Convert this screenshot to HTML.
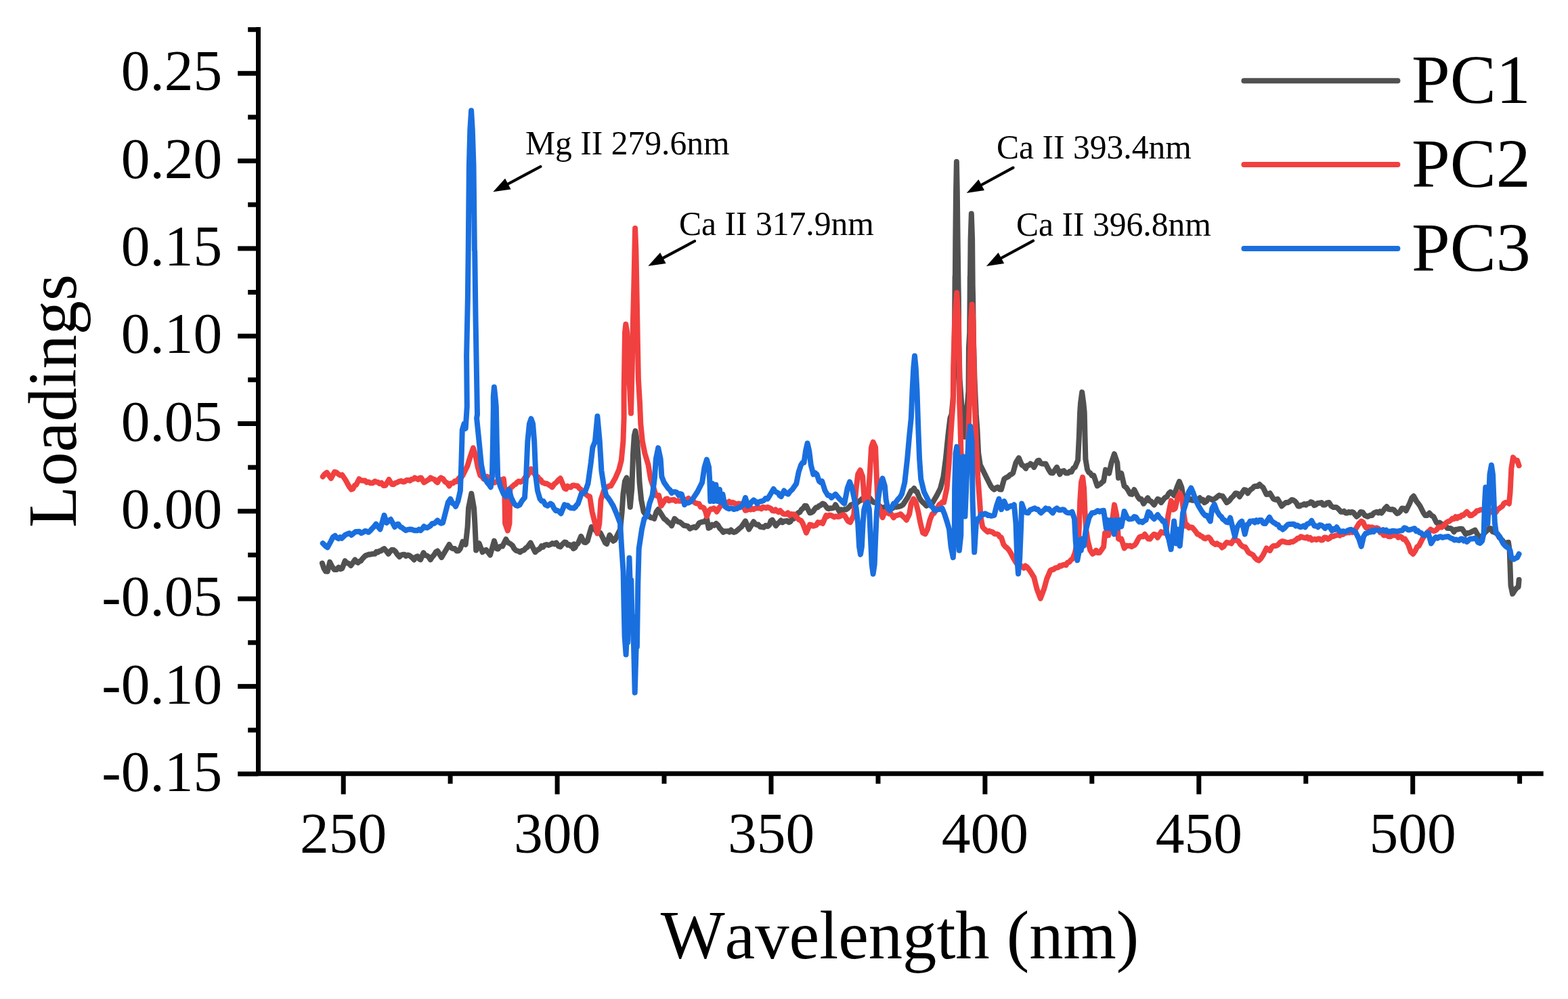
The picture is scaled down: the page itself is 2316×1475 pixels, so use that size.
<!DOCTYPE html>
<html lang="en"><head><meta charset="utf-8"><title>PCA loadings</title>
<style>
html,body{margin:0;padding:0;background:#fff;}
body{width:2316px;height:1475px;overflow:hidden;}
svg{display:block;}
text{font-family:"Liberation Serif","DejaVu Serif",serif;fill:#000;font-kerning:none;}
.tick{font-size:85.5px;}
.title{font-size:100.6px;}
.leg{font-size:102px;}
.ann{font-size:49.6px;}
</style></head><body>
<svg width="2316" height="1475" viewBox="0 0 2316 1475" role="img" aria-label="PCA loadings versus wavelength">
<rect width="2316" height="1475" fill="#fff"/>
<g fill="none" stroke-linejoin="round" stroke-linecap="round" stroke-width="8">
<path d="M475.9 831.6 L478.5 839.4 L481.1 843.6 L483.7 843.7 L487.2 829.9 L490.6 836.8 L494.1 841.1 L497.1 841.0 L500.1 837.7 L502.7 840.2 L505.3 839.4 L509.6 828.2 L511.8 830.9 L514.0 831.6 L516.1 832.7 L518.3 835.1 L524.3 826.4 L526.5 829.6 L528.7 830.8 L530.8 828.8 L533.0 828.2 L535.3 825.0 L537.6 822.7 L539.9 820.4 L542.2 819.6 L544.5 818.5 L546.8 818.7 L549.1 818.0 L551.4 817.7 L553.7 817.8 L556.0 814.6 L558.3 815.5 L560.6 813.5 L562.9 813.4 L565.2 811.2 L567.5 810.0 L570.6 813.6 L573.6 817.8 L576.2 814.2 L578.8 811.8 L581.4 811.9 L584.0 814.3 L587.0 818.8 L590.0 822.1 L592.6 819.6 L595.2 818.7 L597.5 818.8 L599.8 821.0 L602.1 819.5 L604.7 820.1 L607.3 822.1 L609.5 824.0 L611.6 826.4 L614.2 822.2 L616.8 821.3 L619.0 825.1 L621.1 826.4 L625.5 816.1 L628.0 819.9 L630.6 820.4 L633.2 822.3 L635.8 826.4 L638.4 822.4 L641.0 819.5 L643.6 815.2 L646.2 813.5 L652.2 823.0 L657.4 814.3 L663.5 804.0 L666.1 808.6 L668.7 810.0 L671.7 810.1 L674.7 813.5 L677.3 813.3 L679.9 810.0 L683.4 799.7 L685.5 801.2 L687.7 804.0 L690.6 778.0 L692.0 750.4 L696.3 728.7 L700.1 750.4 L701.5 774.6 L703.2 812.6 L707.6 802.2 L712.7 815.2 L715.3 813.2 L717.9 811.8 L721.0 815.4 L724.0 819.5 L730.0 798.7 L733.5 810.0 L735.7 810.5 L737.8 807.4 L740.0 806.5 L742.1 806.6 L747.3 796.2 L749.9 800.8 L752.5 802.2 L754.8 803.6 L757.1 805.7 L759.4 810.0 L762.3 812.8 L765.2 813.6 L768.1 815.2 L770.9 813.1 L773.8 812.4 L776.7 809.2 L779.0 807.8 L781.3 804.8 L783.6 801.4 L790.5 815.2 L792.8 812.7 L795.1 811.4 L797.5 810.0 L799.8 806.2 L802.1 807.7 L804.4 804.8 L807.2 804.0 L810.1 804.9 L813.0 804.0 L815.9 802.1 L818.8 803.4 L821.7 801.4 L824.7 806.2 L827.7 807.4 L830.7 803.5 L833.8 800.5 L836.1 801.0 L838.4 804.6 L840.7 804.0 L843.0 806.2 L845.3 805.0 L847.7 803.3 L850.0 805.7 L846.9 810.0 L849.2 808.8 L851.5 804.3 L853.8 802.2 L858.2 791.9 L862.5 800.5 L865.1 801.1 L867.7 798.8 L871.1 786.7 L873.7 778.0 L876.7 780.2 L879.8 783.2 L882.1 786.1 L884.4 786.7 L886.7 786.7 L891.9 797.1 L894.0 801.5 L896.2 803.1 L900.5 790.1 L905.7 798.8 L908.3 797.1 L910.9 791.9 L916.1 781.5 L918.7 755.6 L920.4 729.6 L923.0 710.6 L925.6 705.4 L928.2 721.0 L930.8 748.7 L933.3 721.0 L935.1 669.1 L936.8 643.2 L938.5 636.3 L941.1 651.9 L942.9 677.8 L944.6 712.4 L947.2 738.3 L950.6 755.6 L953.2 759.0 L955.8 762.5 L958.4 761.6 L961.0 764.2 L963.6 764.4 L966.2 765.9 L969.6 755.6 L972.2 752.1 L976.6 759.0 L980.9 765.9 L983.9 767.9 L986.9 771.1 L989.5 772.9 L992.1 776.3 L996.4 765.9 L999.0 768.3 L1001.6 770.3 L1004.2 770.9 L1006.8 772.9 L1009.8 775.7 L1012.9 776.3 L1015.9 776.9 L1018.9 780.6 L1021.9 779.1 L1025.0 778.0 L1027.6 779.1 L1030.1 776.3 L1032.7 772.2 L1035.3 771.1 L1037.9 770.4 L1040.5 770.3 L1044.0 765.9 L1046.6 779.8 L1049.2 778.4 L1051.8 774.6 L1054.8 775.8 L1057.8 772.9 L1060.4 775.3 L1063.0 779.8 L1065.6 782.4 L1068.2 785.8 L1070.5 784.3 L1072.8 784.4 L1075.1 784.1 L1077.4 785.6 L1079.7 782.6 L1082.0 785.0 L1084.3 785.9 L1086.6 785.0 L1088.9 783.2 L1091.9 780.5 L1095.0 778.0 L1101.0 769.4 L1106.2 781.5 L1113.1 770.3 L1115.4 773.4 L1117.7 774.7 L1120.0 774.6 L1122.6 777.7 L1125.2 778.0 L1128.1 778.7 L1131.0 775.8 L1133.9 777.2 L1136.2 775.4 L1138.5 769.2 L1140.8 767.7 L1146.0 776.3 L1148.6 773.1 L1151.1 771.1 L1153.5 768.6 L1155.8 771.3 L1158.1 769.4 L1160.4 769.5 L1162.7 769.0 L1165.0 771.1 L1167.3 770.3 L1169.6 766.7 L1171.9 765.9 L1174.2 764.6 L1176.5 759.9 L1178.8 757.3 L1181.4 756.2 L1184.0 752.1 L1186.3 750.5 L1188.6 746.8 L1190.9 746.9 L1196.1 757.3 L1198.4 756.8 L1200.7 755.4 L1203.0 752.1 L1205.3 749.3 L1207.6 749.2 L1209.9 746.9 L1212.5 745.8 L1215.1 743.5 L1217.4 744.4 L1219.7 747.2 L1222.0 750.4 L1224.3 751.2 L1226.6 750.2 L1228.9 750.4 L1231.5 749.9 L1234.1 745.2 L1240.0 755.6 L1242.4 752.4 L1244.9 753.6 L1247.3 752.1 L1249.6 752.4 L1251.9 750.9 L1254.2 748.7 L1256.8 745.6 L1259.4 744.7 L1262.0 742.9 L1264.6 743.5 L1267.5 740.9 L1270.3 739.3 L1273.2 736.6 L1275.5 735.8 L1277.8 733.7 L1280.1 729.6 L1282.4 733.7 L1284.7 735.5 L1287.0 738.3 L1289.5 741.3 L1291.9 742.0 L1294.3 741.4 L1296.7 745.2 L1299.1 746.9 L1301.6 749.3 L1304.0 749.7 L1306.4 748.9 L1308.8 750.8 L1311.2 752.1 L1313.7 749.7 L1316.1 751.0 L1318.5 750.4 L1320.9 747.5 L1323.3 748.7 L1325.9 748.2 L1328.5 747.7 L1331.1 746.9 L1333.7 745.2 L1340.6 734.8 L1345.8 724.5 L1348.0 723.9 L1350.1 721.0 L1352.3 725.1 L1354.5 726.2 L1357.9 734.8 L1360.5 739.0 L1363.1 741.7 L1365.7 744.0 L1368.3 746.9 L1370.9 745.3 L1373.5 745.2 L1376.1 744.0 L1378.7 740.0 L1383.8 731.4 L1389.0 721.0 L1393.4 703.7 L1396.8 677.8 L1400.3 643.2 L1403.4 617.3 L1405.5 612.0 L1408.0 586.1 L1409.4 542.9 L1410.1 473.7 L1410.6 408.0 L1410.8 418.6 L1411.3 352.9 L1412.0 283.7 L1412.9 238.7 L1413.8 283.7 L1414.6 352.9 L1415.5 422.0 L1415.8 439.1 L1416.3 508.3 L1417.6 560.1 L1420.1 594.7 L1422.7 617.3 L1425.0 645.0 L1427.1 617.3 L1429.1 594.7 L1430.5 577.4 L1430.9 513.5 L1432.2 491.0 L1432.8 408.0 L1432.9 418.6 L1433.6 352.9 L1434.8 315.6 L1436.1 352.9 L1436.7 422.0 L1437.1 439.1 L1438.0 508.3 L1439.5 560.1 L1441.8 612.0 L1443.5 634.6 L1445.2 669.1 L1447.8 686.4 L1453.0 696.8 L1458.2 707.2 L1463.4 717.5 L1466.0 720.9 L1468.5 722.7 L1471.1 720.4 L1473.7 719.3 L1476.3 722.5 L1478.9 722.7 L1483.2 707.2 L1486.3 705.2 L1489.3 703.7 L1491.6 701.3 L1493.9 700.1 L1496.2 698.5 L1500.5 683.0 L1504.8 676.1 L1509.2 686.4 L1512.2 688.1 L1515.2 691.6 L1517.5 687.3 L1519.8 687.1 L1522.1 684.7 L1524.7 686.2 L1527.3 689.9 L1532.5 680.4 L1534.8 679.7 L1537.1 683.9 L1539.4 684.7 L1542.0 684.7 L1544.6 684.7 L1548.9 693.3 L1552.0 698.0 L1555.0 698.5 L1561.0 689.9 L1565.4 700.3 L1568.4 695.9 L1571.4 695.1 L1574.4 698.5 L1577.5 698.5 L1580.0 696.1 L1582.6 696.8 L1585.2 691.5 L1587.8 689.9 L1592.1 679.5 L1593.9 643.2 L1595.1 608.6 L1596.1 594.7 L1598.2 579.1 L1600.3 594.7 L1601.7 608.6 L1602.5 643.2 L1603.4 677.8 L1606.0 693.3 L1608.1 697.5 L1610.3 698.5 L1612.9 702.3 L1615.5 702.0 L1620.7 717.5 L1623.3 715.7 L1625.9 714.1 L1627.9 711.9 L1630.0 710.6 L1633.0 693.6 L1635.6 695.6 L1638.2 698.8 L1641.6 683.2 L1645.9 670.2 L1650.3 683.2 L1652.0 705.7 L1656.3 698.8 L1660.6 717.8 L1663.6 719.9 L1666.7 724.7 L1669.3 729.3 L1671.9 729.9 L1675.3 723.0 L1680.5 733.3 L1683.1 736.9 L1685.7 736.8 L1689.1 743.7 L1695.2 735.1 L1697.8 739.4 L1700.4 740.3 L1702.5 743.1 L1704.7 745.4 L1709.9 736.8 L1712.5 737.9 L1715.1 742.0 L1717.7 738.5 L1720.3 735.1 L1723.7 733.3 L1726.3 728.6 L1728.9 726.4 L1731.5 728.4 L1734.1 731.6 L1738.4 719.5 L1741.9 710.9 L1745.3 719.5 L1747.9 735.1 L1750.5 734.8 L1753.1 736.8 L1755.4 738.1 L1757.7 736.6 L1760.0 738.5 L1762.3 738.9 L1764.6 735.4 L1766.9 736.8 L1769.5 738.0 L1772.1 735.1 L1774.4 739.4 L1776.7 737.7 L1779.0 742.0 L1782.1 740.1 L1785.1 735.1 L1788.1 736.4 L1791.1 738.5 L1793.4 736.7 L1795.7 735.5 L1798.0 733.3 L1800.6 731.3 L1803.2 732.1 L1805.8 732.5 L1811.9 742.0 L1814.2 740.6 L1816.5 738.3 L1818.8 735.1 L1821.8 732.4 L1824.8 728.2 L1827.9 728.8 L1830.9 733.3 L1837.8 723.0 L1840.4 723.7 L1843.0 728.2 L1845.3 725.0 L1847.6 722.6 L1849.9 721.2 L1852.5 718.1 L1855.1 717.8 L1857.7 718.0 L1860.3 715.2 L1862.9 717.8 L1865.5 719.5 L1870.6 729.9 L1873.2 729.7 L1875.8 728.2 L1881.0 736.8 L1884.0 737.8 L1887.1 736.8 L1893.1 747.2 L1896.1 744.6 L1899.2 742.0 L1902.2 742.0 L1905.2 740.3 L1907.8 738.0 L1910.4 738.5 L1912.7 740.0 L1915.0 742.8 L1917.3 747.2 L1919.6 747.5 L1921.9 745.9 L1924.2 745.4 L1926.5 744.1 L1928.8 745.7 L1931.1 743.7 L1933.7 743.4 L1936.3 741.1 L1938.6 742.0 L1940.9 746.1 L1943.2 745.4 L1946.1 742.9 L1949.0 742.8 L1951.9 742.0 L1954.5 745.5 L1957.1 745.4 L1960.1 742.5 L1963.1 742.0 L1966.2 747.1 L1969.2 748.9 L1971.5 749.0 L1973.8 748.9 L1976.1 750.6 L1978.4 753.2 L1980.7 755.7 L1983.0 755.8 L1985.3 754.7 L1987.6 757.5 L1989.9 757.5 L1992.2 755.9 L1994.5 757.0 L1996.8 755.8 L1999.1 756.7 L2001.4 759.9 L2003.8 762.7 L2006.8 760.2 L2009.8 755.8 L2012.8 756.4 L2015.9 761.0 L2017.9 761.8 L2020.0 762.7 L2022.2 761.8 L2024.4 760.5 L2026.6 761.0 L2028.9 757.7 L2031.2 756.5 L2033.5 755.8 L2035.9 757.4 L2038.2 755.3 L2040.5 757.5 L2043.1 754.2 L2045.6 750.6 L2048.2 748.0 L2051.3 751.9 L2054.3 752.4 L2056.6 752.0 L2058.9 752.8 L2061.2 755.8 L2063.4 758.1 L2065.5 757.5 L2068.1 755.1 L2070.7 750.6 L2073.7 750.7 L2076.8 754.1 L2081.9 743.7 L2085.4 735.1 L2088.0 732.5 L2092.3 740.3 L2094.9 743.5 L2097.5 747.2 L2102.7 757.5 L2105.3 761.1 L2107.9 761.0 L2111.3 757.5 L2114.4 761.1 L2117.4 762.7 L2121.7 771.4 L2124.0 773.0 L2126.3 771.6 L2128.6 773.1 L2130.9 775.3 L2133.2 776.6 L2135.5 776.6 L2137.8 779.8 L2140.1 780.0 L2142.4 780.0 L2145.0 781.5 L2147.6 785.2 L2150.2 781.7 L2152.8 781.7 L2155.1 781.0 L2157.4 780.7 L2159.7 780.9 L2164.9 788.7 L2167.5 786.9 L2170.1 786.9 L2172.7 785.8 L2175.3 784.3 L2178.7 782.6 L2183.1 790.4 L2185.2 793.0 L2187.4 792.1 L2189.7 791.4 L2192.0 787.9 L2194.3 785.2 L2196.9 783.0 L2199.5 780.0 L2202.1 780.3 L2204.7 785.0 L2207.3 785.9 L2209.9 786.9 L2212.2 788.5 L2214.5 793.6 L2216.8 795.6 L2219.1 797.8 L2221.4 801.3 L2223.7 804.2 L2225.9 801.1 L2228.0 800.8 L2229.7 812.9 L2230.6 838.8 L2231.5 864.7 L2234.1 876.8 L2237.5 871.6 L2240.1 868.3 L2242.7 866.4 L2243.6 856.1" stroke="#515151"/>
<path d="M476.8 703.7 L479.4 700.3 L482.8 697.7 L488.9 706.3 L494.1 696.8 L497.1 697.7 L500.1 700.3 L502.7 701.8 L505.3 701.1 L510.5 708.9 L515.7 718.4 L519.1 722.7 L521.4 721.6 L523.8 716.7 L526.1 715.8 L530.4 707.2 L533.4 709.3 L536.4 709.8 L539.0 709.6 L541.6 712.3 L544.2 711.5 L547.2 713.2 L550.3 713.2 L553.7 710.6 L556.0 711.8 L558.3 711.9 L560.6 714.1 L563.5 712.9 L566.4 717.0 L569.3 716.7 L574.5 708.0 L578.8 715.0 L581.4 715.2 L584.0 713.1 L586.6 712.4 L589.4 710.8 L592.3 710.0 L595.2 711.5 L597.8 711.0 L600.4 709.0 L603.0 708.7 L605.6 709.8 L607.9 707.7 L610.2 707.4 L612.5 705.4 L615.1 706.6 L617.7 708.0 L619.8 705.8 L622.0 705.4 L626.3 712.4 L628.7 710.9 L631.1 709.4 L633.4 708.0 L635.8 705.4 L638.9 707.0 L641.9 708.0 L644.0 711.0 L646.2 712.4 L648.8 707.6 L651.4 705.4 L654.4 707.1 L657.4 711.5 L660.5 713.1 L663.5 717.5 L666.5 713.4 L669.5 713.2 L671.8 710.4 L674.1 711.2 L676.4 708.0 L678.8 704.9 L681.1 705.3 L683.4 702.0 L690.3 688.2 L694.6 674.3 L698.9 661.4 L702.4 672.6 L705.8 689.9 L709.3 702.0 L711.9 703.5 L714.5 707.2 L717.1 707.3 L719.7 703.7 L722.0 708.0 L724.3 708.3 L726.6 712.4 L729.5 712.8 L732.3 711.6 L735.2 710.6 L738.1 709.9 L741.0 708.2 L743.9 707.2 L745.2 721.0 L746.1 772.9 L749.9 783.6 L752.5 772.9 L753.4 721.0 L756.4 718.6 L759.4 715.8 L761.7 714.6 L764.0 711.9 L766.3 710.6 L768.6 711.7 L770.9 710.5 L773.2 708.9 L775.8 704.5 L778.4 703.7 L784.5 692.5 L786.6 697.3 L788.8 698.5 L791.4 702.9 L794.0 703.7 L796.3 706.9 L798.6 708.3 L800.9 712.4 L803.2 713.0 L805.5 714.0 L807.8 714.1 L810.4 715.7 L813.0 717.2 L815.6 719.3 L818.6 714.7 L821.7 712.4 L824.7 708.8 L827.7 706.3 L833.8 721.0 L836.1 722.0 L838.4 717.8 L840.7 719.3 L843.0 719.5 L845.3 717.0 L847.7 716.4 L850.0 717.5 L852.8 717.2 L855.6 721.0 L857.9 722.6 L860.2 725.1 L862.5 727.9 L865.4 729.9 L868.2 732.2 L871.1 733.1 L874.6 755.6 L878.9 772.9 L882.4 787.6 L885.3 772.9 L887.5 738.3 L891.9 724.5 L894.5 719.8 L897.0 719.3 L899.6 717.4 L902.2 717.5 L909.1 705.4 L914.3 693.3 L917.8 679.5 L920.4 651.9 L921.6 617.3 L921.6 577.4 L922.2 542.9 L923.0 491.0 L924.3 478.8 L926.3 491.0 L928.6 542.9 L932.0 610.3 L933.7 542.9 L935.0 473.7 L936.3 421.9 L937.4 370.0 L938.1 337.0 L939.4 370.0 L940.7 439.1 L941.9 508.3 L942.9 560.1 L945.0 594.7 L946.3 625.9 L948.9 651.9 L952.4 669.1 L957.5 686.4 L961.0 707.2 L964.5 717.5 L968.8 731.4 L970.9 732.4 L973.1 731.4 L976.6 746.9 L983.5 736.6 L985.8 736.3 L988.1 739.4 L990.4 738.3 L993.0 738.3 L995.6 737.8 L998.2 740.0 L1000.8 739.2 L1003.5 739.7 L1006.3 739.7 L1009.1 736.7 L1011.8 737.9 L1014.6 737.4 L1016.9 735.8 L1019.2 739.9 L1021.5 738.3 L1024.4 740.7 L1027.3 742.8 L1030.1 743.5 L1032.5 743.8 L1034.8 748.6 L1037.1 748.7 L1039.7 750.1 L1042.2 755.6 L1044.0 762.5 L1047.4 753.8 L1049.7 751.6 L1052.0 751.8 L1054.3 750.4 L1056.5 751.8 L1058.7 755.6 L1063.0 748.7 L1065.9 745.0 L1068.8 745.5 L1071.6 741.7 L1074.2 743.8 L1076.8 740.5 L1079.4 742.1 L1082.0 741.7 L1084.9 743.0 L1087.8 744.8 L1090.6 743.5 L1093.0 744.0 L1095.3 743.7 L1097.6 746.9 L1101.0 753.8 L1103.6 753.0 L1106.2 750.4 L1108.5 752.5 L1110.8 750.9 L1113.1 752.1 L1115.4 750.8 L1117.7 749.9 L1120.0 750.4 L1122.3 749.9 L1124.6 751.3 L1126.9 748.7 L1129.3 749.4 L1131.6 750.1 L1133.9 748.7 L1136.2 749.9 L1138.5 750.7 L1140.8 753.8 L1143.1 754.4 L1145.4 752.4 L1147.7 754.7 L1150.0 756.2 L1152.3 753.9 L1154.6 756.4 L1156.9 758.7 L1159.2 759.0 L1161.5 759.0 L1163.8 757.2 L1166.1 761.0 L1168.4 759.0 L1170.7 759.5 L1173.0 759.3 L1175.4 762.5 L1177.9 765.1 L1180.5 767.7 L1183.1 768.5 L1185.7 772.9 L1190.9 786.7 L1196.1 774.6 L1198.4 775.0 L1200.7 776.7 L1203.0 776.3 L1205.6 775.5 L1208.2 771.1 L1210.5 772.1 L1212.8 771.2 L1215.1 772.9 L1220.3 760.8 L1222.6 762.3 L1224.9 760.6 L1227.2 760.8 L1229.8 762.0 L1232.4 763.4 L1234.9 762.2 L1237.5 763.0 L1240.0 762.5 L1242.4 761.4 L1244.9 760.0 L1247.3 760.8 L1252.5 769.4 L1255.9 771.1 L1261.1 760.8 L1264.6 721.0 L1267.2 700.3 L1270.6 694.2 L1274.1 703.7 L1276.7 738.3 L1279.3 743.5 L1281.9 740.0 L1284.5 703.7 L1287.0 660.5 L1289.6 652.7 L1293.1 660.5 L1294.8 703.7 L1296.6 743.5 L1300.9 755.6 L1303.5 764.2 L1306.9 755.6 L1309.1 756.0 L1311.2 757.3 L1313.8 758.6 L1316.4 759.0 L1319.9 764.2 L1322.5 761.4 L1325.1 760.8 L1327.7 760.2 L1330.3 759.0 L1333.7 762.5 L1336.3 764.6 L1338.9 767.7 L1343.2 759.0 L1345.8 743.5 L1349.3 736.6 L1352.7 741.7 L1356.2 755.6 L1359.6 772.9 L1363.1 786.7 L1366.6 788.4 L1370.0 781.5 L1373.5 767.7 L1376.9 759.0 L1379.5 757.9 L1382.1 753.8 L1387.3 745.2 L1389.6 743.7 L1391.9 741.2 L1394.2 741.7 L1398.5 721.0 L1401.5 686.4 L1403.7 651.9 L1406.0 617.3 L1407.7 594.7 L1408.2 542.9 L1410.1 473.7 L1413.2 432.2 L1415.8 473.7 L1416.9 542.9 L1417.2 594.7 L1418.1 617.3 L1419.5 669.1 L1424.5 743.5 L1429.7 669.1 L1431.0 617.3 L1431.9 594.7 L1432.6 542.9 L1434.0 473.7 L1435.7 449.5 L1437.4 473.7 L1438.8 542.9 L1439.7 594.7 L1440.5 617.3 L1441.8 651.9 L1444.3 703.7 L1446.9 738.3 L1448.7 764.2 L1451.3 778.0 L1453.9 781.0 L1456.4 783.2 L1458.8 785.4 L1461.1 783.9 L1463.4 785.0 L1466.2 785.7 L1469.1 788.3 L1472.0 788.4 L1474.3 789.2 L1476.6 792.4 L1478.9 793.6 L1482.4 804.0 L1485.0 807.1 L1487.6 809.2 L1490.2 812.2 L1492.7 816.1 L1497.1 824.7 L1501.4 831.6 L1504.3 832.2 L1507.2 834.7 L1510.0 837.0 L1512.3 838.6 L1514.6 835.5 L1516.9 837.0 L1519.5 840.4 L1522.1 844.0 L1527.3 852.6 L1531.6 869.9 L1536.8 883.7 L1542.0 869.9 L1546.3 854.3 L1551.5 842.2 L1553.8 840.9 L1556.1 840.9 L1558.4 838.8 L1560.7 838.2 L1563.0 837.9 L1565.4 835.3 L1567.7 835.7 L1570.0 834.2 L1572.3 833.6 L1574.6 834.5 L1576.9 830.4 L1579.2 830.1 L1581.8 826.7 L1584.4 824.9 L1587.8 816.1 L1593.4 790.1 L1595.3 738.3 L1597.0 712.4 L1599.1 704.6 L1601.1 721.0 L1602.5 755.6 L1604.2 781.5 L1606.8 798.8 L1610.3 812.6 L1613.8 817.8 L1616.3 816.2 L1618.9 812.6 L1621.5 816.3 L1624.1 816.1 L1630.0 807.4 L1630.4 804.2 L1632.1 786.9 L1634.7 790.7 L1637.3 790.4 L1642.5 771.4 L1646.0 745.4 L1649.4 761.0 L1652.0 795.6 L1654.1 796.4 L1656.3 795.6 L1660.6 809.4 L1663.6 805.6 L1666.7 805.9 L1669.0 805.6 L1671.3 807.1 L1673.6 805.9 L1675.9 804.9 L1678.2 801.9 L1680.5 797.3 L1683.1 793.0 L1685.7 792.1 L1688.3 792.4 L1690.9 788.7 L1693.5 792.5 L1696.1 795.6 L1698.7 795.9 L1701.2 792.1 L1704.7 788.7 L1707.3 789.6 L1709.9 793.8 L1715.1 785.2 L1717.4 786.4 L1719.7 787.0 L1722.0 786.9 L1725.4 761.0 L1729.8 739.3 L1733.2 752.4 L1735.8 750.6 L1739.3 735.1 L1742.7 728.2 L1746.2 736.8 L1748.8 761.0 L1751.4 776.6 L1753.7 775.3 L1756.0 779.3 L1758.3 778.3 L1760.9 778.7 L1763.5 781.7 L1766.1 784.8 L1768.7 788.7 L1771.0 789.1 L1773.3 791.4 L1775.6 792.1 L1777.9 794.5 L1780.2 795.4 L1782.5 793.8 L1785.1 793.2 L1787.7 795.6 L1790.3 800.5 L1792.9 802.5 L1795.2 804.0 L1797.5 802.4 L1799.8 804.2 L1802.4 804.9 L1805.0 808.5 L1807.3 807.0 L1809.6 803.4 L1811.9 800.8 L1814.2 801.6 L1816.5 801.4 L1818.8 802.5 L1823.1 795.6 L1826.1 797.7 L1829.2 799.0 L1831.8 803.5 L1834.3 805.9 L1836.7 807.5 L1839.0 807.5 L1841.3 811.1 L1843.6 815.1 L1845.9 816.9 L1848.2 818.0 L1850.8 819.4 L1853.4 823.2 L1856.4 826.3 L1859.4 827.6 L1862.4 824.4 L1865.5 819.8 L1870.6 809.4 L1873.2 811.5 L1875.8 812.9 L1878.4 808.0 L1881.0 805.9 L1883.3 806.1 L1885.6 805.6 L1887.9 804.2 L1891.0 800.7 L1894.0 799.0 L1897.0 799.9 L1900.0 800.8 L1902.3 801.0 L1904.6 801.1 L1906.9 799.9 L1909.3 800.0 L1911.6 798.7 L1913.9 797.3 L1916.5 794.8 L1919.0 794.7 L1921.4 792.3 L1923.7 793.1 L1926.0 793.8 L1928.3 794.4 L1930.6 793.0 L1932.9 795.6 L1935.2 793.9 L1937.5 797.3 L1939.8 796.4 L1942.1 796.0 L1944.4 797.0 L1946.7 795.6 L1949.0 795.4 L1951.3 797.6 L1953.6 797.3 L1956.2 793.6 L1958.8 793.8 L1961.4 796.1 L1964.0 794.7 L1966.6 791.6 L1969.2 792.1 L1971.8 790.9 L1974.4 790.4 L1976.7 789.2 L1979.0 790.8 L1981.3 788.7 L1983.6 789.1 L1985.9 787.2 L1988.2 786.9 L1990.5 785.6 L1992.8 786.5 L1995.1 785.2 L1997.4 786.1 L1999.7 784.3 L2002.0 781.7 L2007.2 773.1 L2010.7 769.6 L2013.3 771.0 L2015.9 776.6 L2017.9 779.2 L2020.0 778.3 L2022.2 778.1 L2024.4 779.7 L2026.6 778.3 L2028.9 779.4 L2031.2 780.0 L2033.5 779.2 L2036.1 780.6 L2038.7 786.5 L2041.3 786.6 L2043.9 790.4 L2046.2 790.2 L2048.5 790.0 L2050.8 792.1 L2053.7 792.3 L2056.6 790.1 L2059.5 790.4 L2062.4 790.0 L2065.2 793.6 L2068.1 792.1 L2070.4 793.3 L2072.7 796.1 L2075.0 795.6 L2080.2 804.2 L2083.7 814.6 L2087.1 818.0 L2090.6 812.9 L2093.2 807.3 L2095.8 805.9 L2101.0 795.6 L2103.6 791.6 L2106.1 788.7 L2108.5 785.7 L2110.8 784.0 L2113.1 781.7 L2115.4 783.1 L2117.7 784.2 L2120.0 783.5 L2122.3 781.8 L2124.6 778.4 L2126.9 778.3 L2129.2 778.6 L2131.5 776.7 L2133.8 774.8 L2136.1 771.8 L2138.4 770.2 L2140.7 769.6 L2143.0 767.9 L2145.3 765.6 L2147.6 766.2 L2149.9 763.0 L2152.2 765.3 L2154.5 762.7 L2156.9 763.4 L2159.2 760.5 L2161.5 761.0 L2164.1 758.0 L2166.6 755.8 L2169.0 758.3 L2171.3 761.3 L2173.6 761.0 L2176.2 759.0 L2178.7 757.5 L2181.3 754.2 L2183.9 754.1 L2186.5 752.7 L2189.1 752.4 L2191.7 753.5 L2194.3 754.8 L2196.9 754.7 L2199.5 754.1 L2202.1 756.0 L2204.7 753.1 L2207.3 754.5 L2209.9 755.8 L2212.2 752.1 L2214.5 750.7 L2216.8 748.9 L2219.1 747.4 L2221.4 743.3 L2223.7 742.0 L2226.3 741.7 L2228.9 743.7 L2230.6 726.4 L2232.3 691.9 L2234.9 675.4 L2238.0 679.5 L2241.0 679.8 L2243.6 687.5" stroke="#F14040"/>
<path d="M476.8 802.2 L480.3 805.7 L483.7 808.3 L488.9 798.8 L491.9 792.9 L494.9 791.0 L497.5 793.9 L500.1 795.3 L502.4 793.2 L504.7 794.9 L507.0 792.7 L510.1 789.7 L513.1 788.4 L516.1 787.4 L519.1 790.1 L522.2 787.4 L525.2 785.0 L528.0 785.1 L530.8 784.8 L533.6 787.2 L536.4 785.8 L539.0 784.0 L541.6 784.5 L544.2 785.8 L546.8 783.7 L549.4 780.6 L552.4 777.7 L555.4 773.7 L558.5 778.0 L561.5 781.5 L567.5 760.8 L571.0 772.0 L574.0 768.7 L577.1 766.8 L583.1 778.0 L585.7 774.3 L588.3 773.7 L590.9 777.6 L593.5 778.9 L596.5 781.2 L599.5 783.2 L602.5 781.9 L605.6 781.5 L608.6 781.8 L611.6 783.2 L614.0 783.1 L616.4 783.4 L618.8 781.6 L621.1 783.2 L623.7 780.8 L626.3 777.2 L628.6 778.8 L630.9 779.3 L633.2 778.0 L635.8 776.3 L638.4 772.9 L641.0 773.0 L643.6 771.0 L646.2 768.5 L648.8 771.0 L651.4 772.8 L654.0 772.0 L658.3 755.6 L661.8 741.7 L665.2 736.6 L668.7 743.5 L670.8 744.0 L673.0 747.8 L676.4 740.0 L679.9 724.5 L681.3 686.4 L682.8 634.6 L685.4 625.9 L687.7 632.8 L689.8 600.0 L689.1 525.6 L690.9 439.1 L691.7 370.0 L691.7 369.9 L692.9 243.7 L694.3 191.9 L696.1 163.3 L697.8 191.9 L699.5 243.7 L700.9 369.9 L701.2 370.0 L702.6 473.7 L703.8 542.9 L705.0 612.0 L704.1 617.3 L707.6 651.9 L711.0 686.4 L714.5 703.7 L719.7 712.4 L722.3 715.6 L724.8 719.3 L726.9 703.7 L728.0 651.9 L728.8 600.0 L728.7 586.1 L729.9 571.4 L731.5 586.1 L732.8 600.0 L733.8 651.9 L735.2 703.7 L738.7 717.5 L743.9 729.6 L747.3 733.1 L751.6 722.7 L755.1 734.8 L759.4 743.5 L762.0 746.1 L764.6 746.9 L767.6 745.4 L770.7 740.0 L772.8 737.2 L775.0 734.8 L777.1 703.7 L779.3 651.9 L781.9 625.9 L784.5 618.2 L787.1 625.9 L789.2 651.9 L791.4 703.7 L794.0 724.5 L797.5 736.6 L800.0 739.7 L802.6 740.0 L805.7 745.5 L808.7 746.9 L810.8 745.3 L813.0 743.5 L815.6 745.1 L818.2 750.4 L820.8 753.9 L823.4 753.8 L826.0 755.5 L828.6 758.2 L833.8 745.2 L836.1 746.6 L838.4 746.3 L840.7 748.7 L843.0 750.0 L845.3 750.1 L847.7 749.8 L850.0 748.7 L847.8 750.4 L850.8 746.8 L853.8 743.5 L859.0 727.9 L861.6 728.1 L864.2 726.2 L868.5 714.1 L872.8 683.0 L875.4 660.5 L878.9 651.9 L882.4 614.6 L885.8 651.9 L888.4 695.1 L891.9 717.5 L895.3 731.4 L897.9 734.7 L900.5 738.3 L905.7 746.9 L910.9 759.0 L916.1 772.9 L918.1 807.4 L920.6 844.6 L921.6 896.4 L922.6 939.6 L924.6 966.5 L926.4 925.8 L927.4 948.3 L928.5 861.9 L929.5 823.8 L931.3 879.2 L932.3 856.6 L933.8 927.6 L935.0 910.2 L937.7 1022.7 L940.0 944.8 L940.9 955.3 L942.3 861.9 L943.7 810.0 L945.4 798.8 L948.0 781.5 L951.5 765.9 L953.7 763.5 L955.8 760.8 L959.3 743.5 L963.6 731.4 L967.1 703.7 L968.8 677.8 L972.2 661.3 L975.7 677.8 L977.4 703.7 L980.9 712.4 L986.9 721.0 L989.5 723.2 L992.1 727.9 L994.7 726.3 L997.3 726.2 L999.9 727.3 L1002.5 731.4 L1004.6 729.1 L1006.8 729.6 L1011.1 745.2 L1013.7 742.1 L1016.3 742.6 L1018.6 741.6 L1020.9 739.8 L1023.2 736.6 L1030.1 726.2 L1037.1 712.4 L1040.5 689.9 L1043.9 678.6 L1047.1 689.9 L1048.3 710.6 L1049.3 740.1 L1052.2 714.0 L1054.4 740.1 L1057.4 715.8 L1060.0 740.1 L1062.9 722.7 L1064.8 741.8 L1067.4 729.6 L1070.8 747.8 L1073.8 750.1 L1076.8 751.3 L1079.1 750.3 L1081.4 750.4 L1083.7 752.1 L1086.0 751.4 L1088.3 751.1 L1090.6 749.5 L1093.0 749.2 L1095.3 746.7 L1097.6 745.2 L1101.0 734.8 L1104.5 746.9 L1107.1 745.6 L1109.7 741.7 L1113.1 738.3 L1115.7 740.2 L1118.3 743.5 L1120.6 741.3 L1122.9 740.5 L1125.2 740.0 L1128.1 738.9 L1131.0 735.7 L1133.9 736.6 L1139.0 727.9 L1142.5 721.9 L1144.8 725.5 L1147.1 726.9 L1149.4 727.9 L1151.6 731.6 L1153.7 733.1 L1158.1 724.5 L1161.1 728.4 L1164.1 729.6 L1167.1 725.4 L1170.2 722.7 L1176.2 714.1 L1179.7 696.8 L1183.1 686.4 L1185.3 683.1 L1187.5 683.0 L1190.0 665.7 L1192.6 654.5 L1195.2 665.7 L1197.8 686.4 L1201.3 700.3 L1203.9 698.2 L1206.5 700.3 L1209.9 710.6 L1212.1 712.2 L1214.2 710.6 L1218.6 724.5 L1222.9 731.4 L1225.5 731.4 L1228.1 734.8 L1231.1 732.0 L1234.1 729.6 L1237.1 733.2 L1240.0 736.6 L1242.4 738.9 L1244.9 741.7 L1247.3 743.5 L1251.6 721.0 L1255.1 711.5 L1258.5 721.0 L1261.5 734.8 L1264.6 750.4 L1267.2 772.9 L1269.1 807.4 L1271.0 818.7 L1272.9 807.4 L1274.6 772.9 L1276.3 752.1 L1278.4 745.2 L1281.5 741.7 L1283.9 752.1 L1285.7 790.1 L1287.7 833.4 L1289.6 847.5 L1291.7 833.4 L1293.4 790.1 L1295.0 755.6 L1297.4 734.8 L1300.0 717.5 L1303.5 706.3 L1306.9 717.5 L1308.7 738.3 L1311.2 750.4 L1314.7 753.8 L1319.9 743.5 L1322.2 743.1 L1324.5 739.7 L1326.8 736.6 L1329.4 734.1 L1332.0 729.6 L1336.3 712.4 L1340.1 677.8 L1343.2 643.2 L1345.8 617.3 L1347.5 577.4 L1349.3 542.9 L1351.0 525.5 L1352.7 542.9 L1354.5 577.4 L1355.8 617.3 L1356.7 643.2 L1358.1 677.8 L1360.2 707.2 L1364.8 726.2 L1370.0 736.6 L1375.2 746.9 L1377.8 749.1 L1380.4 753.8 L1383.4 752.7 L1386.4 752.1 L1389.0 751.9 L1391.6 750.4 L1395.1 759.0 L1398.5 769.4 L1402.0 781.5 L1404.6 807.4 L1407.8 823.1 L1409.8 790.1 L1410.1 721.0 L1411.5 669.1 L1413.2 659.6 L1415.8 686.4 L1416.8 812.7 L1419.3 790.1 L1420.1 676.1 L1422.7 674.3 L1425.4 762.5 L1427.9 703.7 L1430.5 651.9 L1433.1 629.3 L1435.7 651.9 L1436.6 738.3 L1439.2 815.3 L1441.8 772.9 L1444.3 765.9 L1446.9 764.5 L1449.5 759.0 L1452.1 760.0 L1454.7 758.2 L1457.0 759.2 L1459.3 761.0 L1461.6 760.8 L1463.9 761.8 L1466.2 761.3 L1468.5 760.8 L1472.0 746.9 L1475.5 736.6 L1479.1 752.2 L1483.2 740.0 L1487.6 750.4 L1490.2 748.7 L1492.7 746.9 L1495.3 747.6 L1497.9 745.2 L1500.5 772.9 L1502.3 824.7 L1504.0 847.2 L1506.2 824.7 L1508.3 772.9 L1509.2 743.5 L1513.5 755.6 L1516.1 756.8 L1518.7 757.3 L1521.3 753.0 L1523.9 752.1 L1526.2 751.1 L1528.5 750.3 L1530.8 752.1 L1533.1 752.1 L1535.4 755.2 L1537.7 757.3 L1540.0 754.9 L1542.3 752.9 L1544.6 750.4 L1546.9 751.8 L1549.2 751.2 L1551.5 753.8 L1555.0 757.3 L1558.0 752.3 L1561.0 750.4 L1564.1 753.0 L1567.1 753.0 L1569.4 752.2 L1571.7 752.6 L1574.0 755.6 L1576.6 757.1 L1579.2 757.3 L1581.3 757.0 L1583.5 755.6 L1587.0 765.9 L1588.7 798.8 L1591.3 827.3 L1593.5 816.1 L1595.1 797.0 L1596.8 812.7 L1599.2 795.3 L1601.0 805.8 L1603.7 783.2 L1608.6 764.2 L1612.9 757.3 L1615.9 757.1 L1618.9 755.6 L1621.5 754.0 L1624.1 755.6 L1627.1 754.2 L1630.0 753.8 L1631.2 761.0 L1633.8 780.0 L1636.4 767.9 L1639.0 780.0 L1641.6 767.9 L1645.8 788.7 L1648.5 767.9 L1651.1 780.0 L1653.7 767.9 L1656.3 777.5 L1660.6 755.0 L1664.9 764.5 L1667.5 766.4 L1670.1 766.2 L1672.7 765.9 L1675.3 762.7 L1677.9 763.5 L1680.5 767.9 L1682.8 770.6 L1685.1 769.7 L1687.4 771.4 L1690.0 769.0 L1692.6 767.9 L1696.1 755.8 L1698.7 757.7 L1701.2 762.7 L1704.7 766.2 L1707.3 763.2 L1709.9 760.1 L1712.5 763.9 L1715.1 766.2 L1717.7 769.8 L1720.3 769.6 L1723.7 788.7 L1726.3 795.6 L1729.6 811.2 L1732.4 786.9 L1734.1 769.6 L1737.6 802.5 L1740.1 781.7 L1742.7 806.0 L1745.3 778.3 L1747.1 757.5 L1751.4 743.7 L1755.7 726.4 L1759.2 720.4 L1762.6 728.2 L1766.1 738.5 L1770.4 747.2 L1775.6 755.8 L1777.9 758.8 L1780.2 761.3 L1782.5 761.0 L1787.7 769.6 L1790.3 750.6 L1793.7 744.6 L1797.2 754.1 L1801.5 761.0 L1803.8 762.7 L1806.1 766.4 L1808.4 767.9 L1811.0 770.6 L1813.6 771.4 L1817.1 764.5 L1820.5 778.3 L1824.0 792.2 L1827.4 778.3 L1831.8 771.4 L1834.3 769.6 L1838.7 788.7 L1842.1 774.8 L1844.3 773.5 L1846.4 769.6 L1848.8 769.7 L1851.1 769.1 L1853.4 771.4 L1855.7 768.2 L1858.0 770.4 L1860.3 767.9 L1863.2 768.0 L1866.0 772.7 L1868.9 773.1 L1875.0 763.6 L1878.0 769.0 L1881.0 771.4 L1883.3 772.6 L1885.6 774.6 L1887.9 774.8 L1890.2 779.2 L1892.5 779.2 L1894.8 781.7 L1897.4 779.6 L1900.0 776.6 L1902.3 774.4 L1904.6 774.0 L1906.9 774.0 L1909.3 773.8 L1911.6 774.0 L1913.9 776.6 L1916.2 775.6 L1918.5 777.1 L1920.8 778.3 L1923.1 777.4 L1925.4 776.3 L1927.7 778.3 L1930.3 774.1 L1932.9 773.1 L1935.0 771.8 L1937.2 768.8 L1941.5 776.6 L1944.1 776.5 L1946.7 778.3 L1949.3 775.0 L1951.9 775.7 L1954.5 777.3 L1957.1 780.0 L1960.1 777.0 L1963.1 776.6 L1967.5 783.5 L1969.8 780.8 L1972.1 781.9 L1974.4 778.3 L1977.0 782.4 L1979.6 785.2 L1981.9 784.5 L1984.2 784.3 L1986.5 785.2 L1989.3 784.1 L1992.2 782.6 L1995.1 781.7 L1997.4 782.6 L1999.7 784.3 L2002.0 785.2 L2007.2 795.6 L2010.7 806.8 L2014.1 792.1 L2017.1 787.6 L2020.0 786.9 L2022.2 785.0 L2024.4 785.7 L2026.6 783.5 L2028.9 785.1 L2031.2 782.4 L2033.5 782.6 L2035.9 782.8 L2038.2 783.7 L2040.5 783.5 L2042.8 782.1 L2045.1 783.9 L2047.4 782.6 L2049.7 785.2 L2052.0 784.5 L2054.3 785.2 L2056.6 783.7 L2058.9 784.0 L2061.2 784.3 L2063.5 784.6 L2065.8 784.1 L2068.1 783.5 L2071.1 783.3 L2074.2 779.2 L2077.2 780.3 L2080.2 782.6 L2082.5 782.2 L2084.8 781.5 L2087.1 780.9 L2089.4 780.2 L2091.7 784.3 L2094.0 783.5 L2096.6 786.3 L2099.2 786.9 L2101.8 790.1 L2104.4 790.4 L2107.0 787.6 L2109.6 786.9 L2113.9 802.5 L2118.2 795.6 L2120.8 793.2 L2123.4 794.7 L2125.7 792.6 L2128.0 792.2 L2130.3 793.8 L2133.2 793.0 L2136.1 792.4 L2139.0 792.1 L2141.3 793.7 L2143.6 794.9 L2145.9 795.6 L2148.2 797.5 L2150.5 796.6 L2152.8 797.3 L2155.1 798.0 L2157.4 795.8 L2159.7 795.6 L2162.0 798.5 L2164.3 796.7 L2166.6 799.9 L2169.0 797.9 L2171.3 795.8 L2173.6 795.6 L2176.2 795.4 L2178.7 794.7 L2180.9 796.2 L2183.1 800.8 L2186.1 802.0 L2189.1 799.0 L2191.7 786.9 L2192.9 743.7 L2194.3 719.5 L2196.0 743.7 L2197.4 773.2 L2198.8 743.7 L2200.4 700.5 L2202.9 686.7 L2205.0 700.5 L2206.4 735.1 L2207.8 771.4 L2209.9 786.9 L2212.5 789.9 L2215.0 792.1 L2220.2 802.5 L2222.8 805.5 L2225.4 807.7 L2228.0 809.0 L2230.6 812.9 L2232.3 823.2 L2235.8 825.8 L2238.4 824.2 L2241.0 823.2 L2243.6 818.0" stroke="#1A6FDF"/>
</g>
<g stroke="#000" stroke-width="7" fill="none" stroke-linecap="butt">
<path d="M381.5 40.1 V1142.2 H2279.7"/>
<path d="M381.5 1142.7 H351.2"/>
<path d="M381.5 1078.0 H366.2"/>
<path d="M381.5 1013.4 H351.2"/>
<path d="M381.5 948.8 H366.2"/>
<path d="M381.5 884.1 H351.2"/>
<path d="M381.5 819.4 H366.2"/>
<path d="M381.5 754.8 H351.2"/>
<path d="M381.5 690.1 H366.2"/>
<path d="M381.5 625.5 H351.2"/>
<path d="M381.5 560.8 H366.2"/>
<path d="M381.5 496.2 H351.2"/>
<path d="M381.5 431.5 H366.2"/>
<path d="M381.5 366.9 H351.2"/>
<path d="M381.5 302.2 H366.2"/>
<path d="M381.5 237.6 H351.2"/>
<path d="M381.5 173.0 H366.2"/>
<path d="M381.5 108.3 H351.2"/>
<path d="M381.5 43.7 H366.2"/>
<path d="M507.2 1142.2 V1172.7"/>
<path d="M665.1 1142.2 V1157.2"/>
<path d="M823.1 1142.2 V1172.7"/>
<path d="M981.0 1142.2 V1157.2"/>
<path d="M1139.0 1142.2 V1172.7"/>
<path d="M1297.0 1142.2 V1157.2"/>
<path d="M1454.9 1142.2 V1172.7"/>
<path d="M1612.8 1142.2 V1157.2"/>
<path d="M1770.8 1142.2 V1172.7"/>
<path d="M1928.8 1142.2 V1157.2"/>
<path d="M2086.7 1142.2 V1172.7"/>
<path d="M2244.6 1142.2 V1157.2"/>
</g>
<g class="tick">
<text x="328.3" y="1167.8" text-anchor="end">-0.15</text>
<text x="328.3" y="1038.5" text-anchor="end">-0.10</text>
<text x="328.3" y="909.2" text-anchor="end">-0.05</text>
<text x="328.3" y="779.9" text-anchor="end">0.00</text>
<text x="328.3" y="650.6" text-anchor="end">0.05</text>
<text x="328.3" y="521.3" text-anchor="end">0.10</text>
<text x="328.3" y="392.0" text-anchor="end">0.15</text>
<text x="328.3" y="262.7" text-anchor="end">0.20</text>
<text x="328.3" y="133.4" text-anchor="end">0.25</text>
<text x="507.2" y="1258.8" text-anchor="middle">250</text>
<text x="823.1" y="1258.8" text-anchor="middle">300</text>
<text x="1139.0" y="1258.8" text-anchor="middle">350</text>
<text x="1454.9" y="1258.8" text-anchor="middle">400</text>
<text x="1770.8" y="1258.8" text-anchor="middle">450</text>
<text x="2086.7" y="1258.8" text-anchor="middle">500</text>
</g>
<text class="title" x="1329" y="1415" text-anchor="middle">Wavelength (nm)</text>
<text class="title" transform="translate(112 592) rotate(-90)" text-anchor="middle">Loadings</text>
<g stroke-width="8" stroke-linecap="round" fill="none">
<path d="M1837.4 119.3 H2064.4" stroke="#515151"/>
<path d="M1837.4 243.0 H2064.4" stroke="#F14040"/>
<path d="M1837.4 367.0 H2064.4" stroke="#1A6FDF"/>
</g>
<g class="leg">
<text x="2085" y="152.0">PC1</text>
<text x="2085" y="276.0">PC2</text>
<text x="2085" y="400.0">PC3</text>
</g>
<g class="ann">
<text x="776" y="228.3">Mg II 279.6nm</text>
<text x="1003" y="346.7">Ca II 317.9nm</text>
<text x="1472" y="233.8">Ca II 393.4nm</text>
<text x="1501" y="347.5">Ca II 396.8nm</text>
</g>
<path d="M798.3 246.0 L748.6 272.5" stroke="#000" stroke-width="4.2" stroke-linecap="round" fill="none"/>
<path d="M728.3 283.3 L746.1 263.6 L754.6 279.5 Z" fill="#000"/>
<path d="M1026.0 356.0 L977.6 381.9" stroke="#000" stroke-width="4.2" stroke-linecap="round" fill="none"/>
<path d="M957.3 392.7 L975.1 373.0 L983.6 388.9 Z" fill="#000"/>
<path d="M1496.4 247.6 L1447.9 274.0" stroke="#000" stroke-width="4.2" stroke-linecap="round" fill="none"/>
<path d="M1427.7 285.0 L1445.4 265.1 L1454.0 281.0 Z" fill="#000"/>
<path d="M1526.0 355.5 L1477.1 382.0" stroke="#000" stroke-width="4.2" stroke-linecap="round" fill="none"/>
<path d="M1456.9 392.9 L1474.6 373.1 L1483.2 388.9 Z" fill="#000"/>
</svg></body></html>
